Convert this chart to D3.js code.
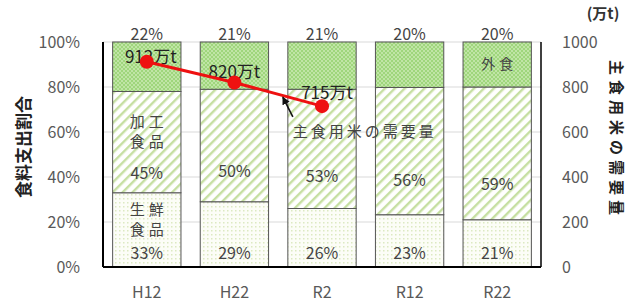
<!DOCTYPE html>
<html>
<head>
<meta charset="utf-8">
<script src="https://cdn.jsdelivr.net/npm/d3@7"></script>
<style>
body { margin: 0; background: #fff; }
svg text { font-family: "Noto Sans CJK JP", "Noto Sans", sans-serif; }
</style>
</head>
<body>
<svg class="chart" width="629" height="308"></svg>
<script>
// data
var years = ["H12", "H22", "R2", "R12", "R22"];
var fresh = [33, 29, 26, 23, 21];      // 生鮮食品
var processed = [45, 50, 53, 56, 59];  // 加工食品
var eatingOut = [22, 21, 21, 20, 20];  // 外食
var riceYears = ["H12", "H22", "R2"];
var riceDemand = [912, 820, 715];      // 主食用米の需要量 (万t)
var leftTicks = [0, 0.2, 0.4, 0.6, 0.8, 1];
var rightTicks = [0, 200, 400, 600, 800, 1000];

var svg = d3.select(".chart");
var margin = {top: 42, left: 103, right: 88, bottom: 41};
var width = 629 - margin.left - margin.right,
    height = 308 - margin.top - margin.bottom;

var defs = svg.append("defs");
// 外食: green checker
var p1 = defs.append("pattern").attr("id", "pOut").attr("patternUnits", "userSpaceOnUse")
  .attr("width", 4).attr("height", 4);
p1.append("rect").attr("width", 4).attr("height", 4).attr("fill", "#9fd67c");
p1.append("rect").attr("width", 2).attr("height", 2).attr("fill", "#c0e5a6");
p1.append("rect").attr("x", 2).attr("y", 2).attr("width", 2).attr("height", 2).attr("fill", "#c0e5a6");
// 加工食品: diagonal stripes
var p2 = defs.append("pattern").attr("id", "pProc").attr("patternUnits", "userSpaceOnUse")
  .attr("width", 7).attr("height", 7).attr("patternTransform", "rotate(45)");
p2.append("rect").attr("width", 7).attr("height", 7).attr("fill", "#ffffff");
p2.append("rect").attr("width", 2.4).attr("height", 7).attr("fill", "#c6dfa2");
// 生鮮食品: sparse dots
var p3 = defs.append("pattern").attr("id", "pFresh").attr("patternUnits", "userSpaceOnUse")
  .attr("width", 4).attr("height", 4);
p3.append("rect").attr("width", 4).attr("height", 4).attr("fill", "#fcfdf7");
p3.append("rect").attr("width", 1.5).attr("height", 1.5).attr("fill", "#dce9c2");

var g = svg.append("g").attr("transform", "translate(" + margin.left + "," + margin.top + ")");

var x = d3.scaleBand().domain(years).range([0, width]).paddingInner(0.22).paddingOuter(0.11);
var y = d3.scaleLinear().domain([0, 1]).range([height, 0]);
var y2 = d3.scaleLinear().domain([0, 1000]).range([height, 0]);

// grid
g.selectAll(".grid").data(leftTicks.slice(1)).enter().append("line")
  .attr("x1", 0).attr("x2", width)
  .attr("y1", function(d) { return y(d); }).attr("y2", function(d) { return y(d); })
  .attr("stroke", "#d9d9d9").attr("stroke-width", 1);

// stacked bars
var table = years.map(function(yr, i) {
  return {year: yr, fresh: fresh[i], processed: processed[i], out: eatingOut[i]};
});
var keys = ["fresh", "processed", "out"];
var fills = {fresh: "url(#pFresh)", processed: "url(#pProc)", out: "url(#pOut)"};
var stack = d3.stack().keys(keys).offset(d3.stackOffsetExpand)(table);

stack.forEach(function(layer) {
  g.selectAll(".bar-" + layer.key).data(layer).enter().append("rect")
    .attr("x", function(d) { return x(d.data.year); })
    .attr("width", x.bandwidth())
    .attr("y", function(d) { return y(d[1]); })
    .attr("height", function(d) { return y(d[0]) - y(d[1]); })
    .attr("fill", fills[layer.key])
    .attr("stroke", "#555").attr("stroke-width", 1);
});

// axis lines
g.append("line").attr("x1", 0).attr("x2", 0).attr("y1", 0).attr("y2", height)
  .attr("stroke", "#000").attr("stroke-width", 2);
g.append("line").attr("x1", width).attr("x2", width).attr("y1", 0).attr("y2", height)
  .attr("stroke", "#000").attr("stroke-width", 1.5);
g.append("line").attr("x1", 0).attr("x2", width).attr("y1", height).attr("y2", height)
  .attr("stroke", "#000").attr("stroke-width", 2);

// left axis
var yAxis = d3.axisLeft(y).tickValues(leftTicks).tickFormat(d3.format(".0%")).tickSize(0).tickPadding(23);
var ya = g.append("g").call(yAxis);
ya.select(".domain").remove();
ya.selectAll("text").attr("fill", "#595959").style("font-size", "16px");

// right axis
var y2Axis = d3.axisRight(y2).tickValues(rightTicks).tickFormat(d3.format("d")).tickSize(0).tickPadding(21);
var ya2 = g.append("g").attr("transform", "translate(" + width + ",0)").call(y2Axis);
ya2.select(".domain").remove();
ya2.selectAll("text").attr("fill", "#595959").style("font-size", "16px");

// x axis
var xAxis = d3.axisBottom(x).tickSize(0).tickPadding(20);
var xa = g.append("g").attr("transform", "translate(0," + height + ")").call(xAxis);
xa.select(".domain").remove();
xa.selectAll("text").attr("fill", "#595959").style("font-size", "16px");

// axis titles
svg.append("text").attr("transform", "translate(22,147) rotate(-90)")
  .attr("text-anchor", "middle").attr("dominant-baseline", "central")
  .style("font-size", "17px").style("font-weight", "bold")
  .attr("fill", "#222").text("食料支出割合");
svg.append("text").attr("transform", "translate(617,140) rotate(90)")
  .attr("text-anchor", "middle").attr("dominant-baseline", "central")
  .attr("letter-spacing", "5px")
  .style("font-size", "15px").style("font-weight", "bold")
  .attr("fill", "#222").text("主食用米の需要量");
svg.append("text").attr("x", 603).attr("y", 19).attr("text-anchor", "middle")
  .style("font-size", "15px").style("font-weight", "bold").attr("fill", "#333").text("(万t)");

// value labels
var labelColor = "#444";
g.selectAll(".lblOut").data(table).enter().append("text")
  .attr("x", function(d) { return x(d.year) + x.bandwidth() / 2; })
  .attr("y", -2).attr("text-anchor", "middle")
  .style("font-size", "16px").attr("fill", labelColor)
  .text(function(d) { return d.out + "%"; });

var procLayer = stack[1], freshLayer = stack[0];
g.selectAll(".lblProc").data(procLayer).enter().append("text")
  .attr("x", function(d) { return x(d.data.year) + x.bandwidth() / 2; })
  .attr("y", function(d, i) {
    var f = i === 0 ? 0.2 : 0.27;
    return y(d[0]) + (y(d[1]) - y(d[0])) * f + 6;
  })
  .attr("text-anchor", "middle")
  .style("font-size", "16px").attr("fill", labelColor)
  .text(function(d) { return d.data.processed + "%"; });

g.selectAll(".lblFresh").data(freshLayer).enter().append("text")
  .attr("x", function(d) { return x(d.data.year) + x.bandwidth() / 2; })
  .attr("y", height - 8)
  .attr("text-anchor", "middle")
  .style("font-size", "16px").attr("fill", labelColor)
  .text(function(d) { return d.data.fresh + "%"; });

// category names inside bars
var cx0 = x(years[0]) + x.bandwidth() / 2;
function catLabel(lines, y0) {
  var t = g.append("text").attr("text-anchor", "middle")
    .style("font-size", "15px").attr("fill", labelColor);
  lines.forEach(function(s, i) {
    t.append("tspan").attr("x", cx0 + 2).attr("y", y0 + i * 20).attr("letter-spacing", "4px").text(s);
  });
}
catLabel(["加工", "食品"], y(0.6) - 5);
catLabel(["生鮮", "食品"], y(0.2) - 7);
g.append("text").attr("x", x("R22") + x.bandwidth() / 2 + 2).attr("y", y(0.88))
  .attr("text-anchor", "middle").attr("letter-spacing", "4px")
  .style("font-size", "14px").attr("fill", labelColor).text("外食");

// rice demand line
var rice = riceYears.map(function(yr, i) { return {year: yr, v: riceDemand[i]}; });
var line = d3.line()
  .x(function(d) { return x(d.year) + x.bandwidth() / 2; })
  .y(function(d) { return y2(d.v); });
var riceOffsets = [[4, 1], [0, -5], [5, -7]];
g.selectAll(".riceLbl").data(rice).enter().append("text")
  .attr("x", function(d, i) { return x(d.year) + x.bandwidth() / 2 + riceOffsets[i][0]; })
  .attr("y", function(d, i) { return y2(d.v) + riceOffsets[i][1]; })
  .attr("text-anchor", "middle")
  .style("font-size", "17px").attr("fill", "#222")
  .text(function(d) { return d.v + "万t"; });
g.append("path").datum(rice).attr("d", line)
  .attr("fill", "none").attr("stroke", "#ee1111").attr("stroke-width", 3);
g.selectAll(".dot").data(rice).enter().append("circle")
  .attr("cx", function(d) { return x(d.year) + x.bandwidth() / 2; })
  .attr("cy", function(d) { return y2(d.v); })
  .attr("r", 7).attr("fill", "#ee1111");

// annotation arrow
defs.append("marker").attr("id", "arr").attr("viewBox", "0 0 10 10")
  .attr("refX", 9).attr("refY", 5).attr("markerWidth", 5).attr("markerHeight", 5)
  .attr("orient", "auto")
  .append("path").attr("d", "M0,0 L10,5 L0,10 z").attr("fill", "#111");
var ax = x("R2");
g.append("line").attr("x1", ax + 5).attr("y1", y2(667))
  .attr("x2", ax - 5).attr("y2", y2(755))
  .attr("stroke", "#111").attr("stroke-width", 1.6).attr("marker-end", "url(#arr)");
g.append("text").attr("x", ax + 5).attr("y", y2(578))
  .style("font-size", "15px").attr("fill", labelColor).attr("letter-spacing", "3px")
  .text("主食用米の需要量");
</script>
</body>
</html>
